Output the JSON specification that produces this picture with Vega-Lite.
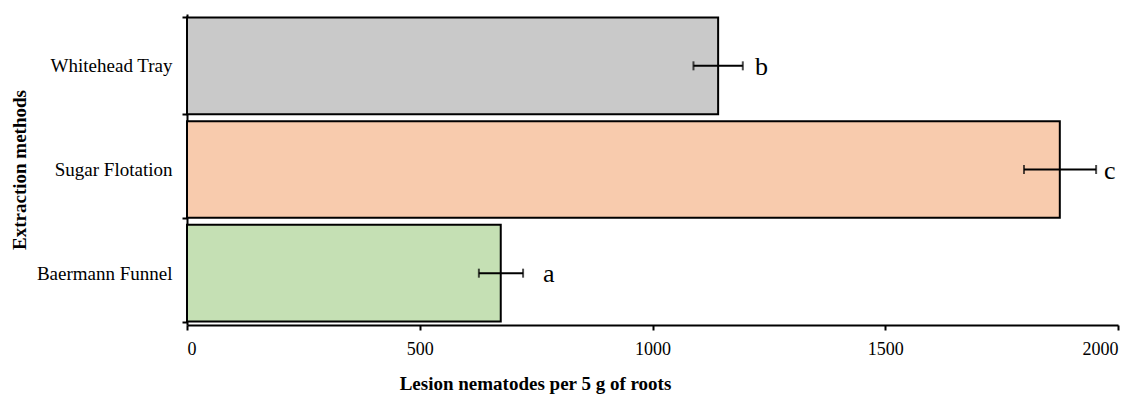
{
  "$schema": "https://vega.github.io/schema/vega-lite/v6.json",
  "width": 931,
  "height": 311,
  "autosize": {"type": "none"},
  "padding": {"left": 187, "top": 14, "right": 26, "bottom": 69},
  "background": "white",
  "config": {
    "view": {"stroke": null},
    "font": "Times New Roman, Liberation Serif, serif",
    "axis": {"domainColor": "black", "domainWidth": 2, "tickColor": "black", "tickWidth": 2, "labelColor": "black", "titleColor": "black", "labelFont": "Times New Roman, Liberation Serif, serif", "titleFont": "Times New Roman, Liberation Serif, serif", "grid": false},
    "axisX": {"tickSize": 5, "labelFontSize": 18, "labelPadding": 10, "titleFontSize": 19, "titleFontWeight": "bold", "titleX": 348, "titleY": 64, "titleAlign": "center", "titleBaseline": "alphabetic"},
    "axisY": {"tickSize": 5, "labelFontSize": 19, "labelPadding": 10, "titleFontSize": 19, "titleFontWeight": "bold", "tickBand": "extent", "titleX": -168, "titleY": 155.5, "titleAngle": 270, "titleAlign": "center", "titleBaseline": "middle"}
  },
  "data": {"values": [
    {"method": "Whitehead Tray", "mean": 1141, "lo": 1088, "hi": 1194, "letter": "b", "lx": 1220},
    {"method": "Sugar Flotation", "mean": 1875, "lo": 1798, "hi": 1953, "letter": "c", "lx": 1970},
    {"method": "Baermann Funnel", "mean": 674, "lo": 627, "hi": 722, "letter": "a", "lx": 765}
  ]},
  "encoding": {
    "y": {"field": "method", "type": "nominal", "sort": null, "title": "Extraction methods", "scale": {"paddingInner": 0.067, "paddingOuter": 0.0335}, "axis": {"labelFont": "Times New Roman, Liberation Serif, serif", "labelFontSize": 19}}
  },
  "layer": [
    {
      "mark": {"type": "bar", "stroke": "black", "strokeWidth": 2},
      "encoding": {
        "x": {"field": "mean", "type": "quantitative", "title": "Lesion nematodes per 5 g of roots", "scale": {"domain": [0, 2000], "nice": false}, "axis": {"values": [0, 500, 1000, 1500, 2000], "format": "d"}},
        "color": {"field": "method", "type": "nominal", "scale": {"domain": ["Whitehead Tray", "Sugar Flotation", "Baermann Funnel"], "range": ["#c9c9c9", "#f8cbad", "#c5e0b4"]}, "legend": null}
      }
    },
    {
      "mark": {"type": "rule", "strokeWidth": 2, "color": "black"},
      "encoding": {
        "x": {"field": "lo", "type": "quantitative", "title": "Lesion nematodes per 5 g of roots", "axis": {"values": [0, 500, 1000, 1500, 2000], "format": "d"}},
        "x2": {"field": "hi"}
      }
    },
    {
      "mark": {"type": "tick", "thickness": 2, "size": 9, "color": "black"},
      "encoding": {"x": {"field": "lo", "type": "quantitative", "title": "Lesion nematodes per 5 g of roots", "axis": {"values": [0, 500, 1000, 1500, 2000], "format": "d"}}}
    },
    {
      "mark": {"type": "tick", "thickness": 2, "size": 9, "color": "black"},
      "encoding": {"x": {"field": "hi", "type": "quantitative", "title": "Lesion nematodes per 5 g of roots", "axis": {"values": [0, 500, 1000, 1500, 2000], "format": "d"}}}
    },
    {
      "mark": {"type": "text", "fontSize": 26, "align": "left", "baseline": "alphabetic", "dy": 9, "color": "black"},
      "encoding": {
        "x": {"field": "lx", "type": "quantitative", "title": "Lesion nematodes per 5 g of roots", "axis": {"values": [0, 500, 1000, 1500, 2000], "format": "d"}},
        "text": {"field": "letter"}
      }
    }
  ]
}
